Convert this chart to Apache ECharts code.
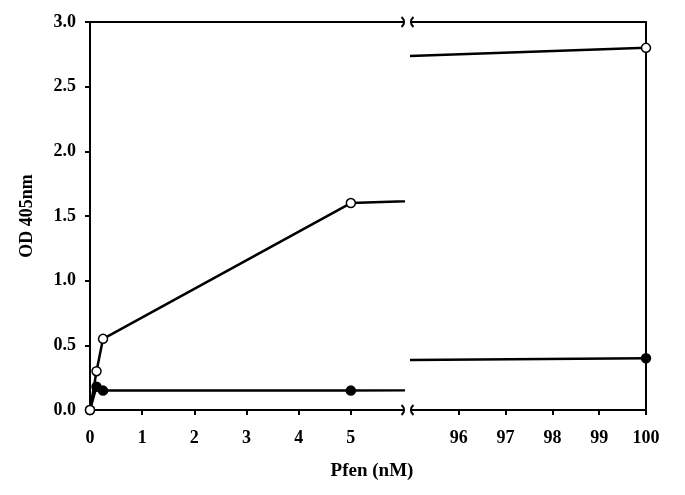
<!DOCTYPE html>
<html>
<head>
<meta charset="utf-8">
<title>OD 405nm vs Pfen</title>
<script src="https://cdn.jsdelivr.net/npm/echarts@6/dist/echarts.min.js"></script>
<style>
  html, body { margin: 0; padding: 0; background: #fff; }
  #main { width: 685px; height: 495px; }
</style>
</head>
<body>
<div id="main"></div>
<script>
// concentrations (nM) and OD readings
var pfen = [0, 0.125, 0.25, 5, 100];
var openVals = [0, 0.3, 0.55, 1.6, 2.8];
var filledVals = [0, 0.18, 0.15, 0.15, 0.4];
var leftTicks = [0, 1, 2, 3, 4, 5];
var rightTicks = [96, 97, 98, 99, 100];

var font = 'Liberation Serif';
var black = '#000';

function pairs(ys) {
    return pfen.map(function (x, i) { return [x, ys[i]]; });
}

var chart = echarts.init(document.getElementById('main'));

function bottomAxis(grid, min, max, ticks) {
    return {
        type: 'value', gridIndex: grid, position: 'bottom',
        min: min, max: max, interval: 1,
        splitLine: { show: false },
        axisLine: { show: true, onZero: false, lineStyle: { color: black, width: 2 } },
        axisTick: { show: true, inside: false, length: 5, customValues: ticks,
            lineStyle: { color: black, width: 2 } },
        axisLabel: { customValues: ticks, margin: 19, color: black,
            fontFamily: font, fontWeight: 'bold', fontSize: 18 }
    };
}
function topAxis(grid, min, max) {
    return {
        type: 'value', gridIndex: grid, position: 'top',
        min: min, max: max,
        splitLine: { show: false },
        axisLine: { show: true, onZero: false, lineStyle: { color: black, width: 2 } },
        axisTick: { show: false },
        axisLabel: { show: false }
    };
}

function lineSeries(axis, ys, fill) {
    return {
        type: 'line',
        xAxisIndex: axis, yAxisIndex: axis,
        data: pairs(ys),
        clip: true,
        symbol: 'circle',
        symbolSize: 9,
        showAllSymbol: true,
        lineStyle: { color: black, width: 2.5 },
        itemStyle: { color: fill, borderColor: black, borderWidth: 1.5 },
        emphasis: { disabled: true },
        animation: false
    };
}

// small ")(" marks on the top and bottom axes at the break
var breakMarks = [];
[22, 410].forEach(function (y) {
    [[403, 1], [412, -1]].forEach(function (m) {
        breakMarks.push({
            type: 'bezierCurve',
            shape: { x1: m[0] - 1.5 * m[1], y1: y - 5, cpx1: m[0] + 2 * m[1], cpy1: y - 2,
                     cpx2: m[0] + 2 * m[1], cpy2: y + 2, x2: m[0] - 1.5 * m[1], y2: y + 5 },
            style: { stroke: black, lineWidth: 2, fill: null },
            silent: true
        });
    });
});

chart.setOption({
    backgroundColor: '#fff',
    animation: false,
    title: {
        text: 'Pfen (nM)',
        left: 367, top: 457, textAlign: 'center',
        textStyle: { fontFamily: font, fontWeight: 'bold', fontSize: 19, color: black }
    },
    grid: [
        { left: 90, right: 282, top: 22, bottom: 85 },
        { left: 412, right: 39, top: 22, bottom: 85 }
    ],
    xAxis: [
        bottomAxis(0, 0, 6, leftTicks),
        bottomAxis(1, 95, 100, rightTicks),
        topAxis(0, 0, 6),
        topAxis(1, 95, 100)
    ],
    yAxis: [
        {
            type: 'value', gridIndex: 0, position: 'left',
            min: 0, max: 3, interval: 0.5,
            name: 'OD 405nm', nameLocation: 'middle', nameGap: 54, nameRotate: 90,
            nameTextStyle: { fontFamily: font, fontWeight: 'bold', fontSize: 18, color: black },
            splitLine: { show: false },
            axisLine: { show: true, lineStyle: { color: black, width: 2 } },
            axisTick: { show: true, inside: false, length: 5, lineStyle: { color: black, width: 2 } },
            axisLabel: { margin: 14, color: black, fontFamily: font, fontWeight: 'bold', fontSize: 18,
                formatter: function (v) { return v.toFixed(1); } }
        },
        {
            type: 'value', gridIndex: 1, position: 'right',
            min: 0, max: 3, interval: 0.5,
            splitLine: { show: false },
            axisLine: { show: true, lineStyle: { color: black, width: 2 } },
            axisTick: { show: false },
            axisLabel: { show: false }
        }
    ],
    graphic: breakMarks,
    series: [
        lineSeries(0, filledVals, black),
        lineSeries(1, filledVals, black),
        lineSeries(0, openVals, '#fff'),
        lineSeries(1, openVals, '#fff')
    ]
});
</script>
</body>
</html>
